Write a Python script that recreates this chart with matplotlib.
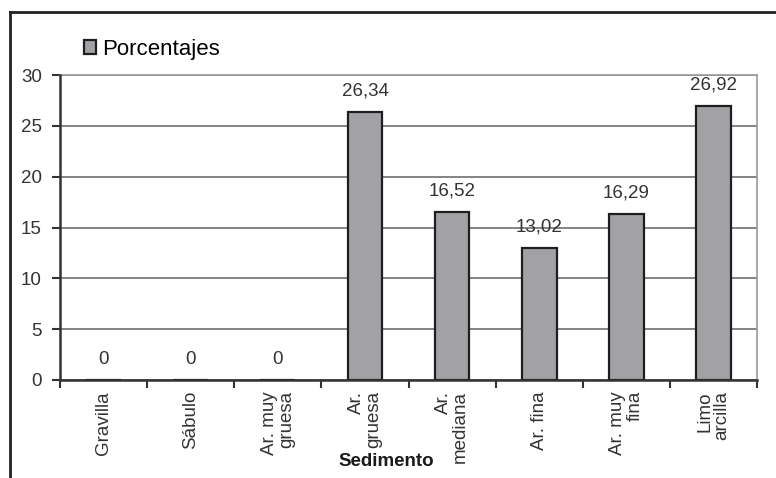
import numpy as np
import matplotlib.pyplot as plt
from matplotlib.lines import Line2D
from matplotlib.patches import Patch

categorias = ['Gravilla', 'Sábulo', 'Ar. muy\ngruesa', 'Ar.\ngruesa', 'Ar.\nmediana',
              'Ar. fina', 'Ar. muy\nfina', 'Limo\narcilla']
porcentajes = [0, 0, 0, 26.34, 16.52, 13.02, 16.29, 26.92]
etiquetas = ['0', '0', '0', '26,34', '16,52', '13,02', '16,29', '26,92']

plt.rcParams['font.family'] = ['Liberation Sans', 'DejaVu Sans']

fig = plt.figure(figsize=(7.76, 4.78), dpi=100)
ax = fig.add_axes([60/776, 1-380/478, (757-60)/776, (380-75)/478])

x = np.arange(len(categorias))
ax.bar(x, porcentajes, width=0.4, color='#a2a2a6', edgecolor='#1e1e1e', linewidth=1.6, zorder=3)

for xi, v, t in zip(x, porcentajes, etiquetas):
    ax.annotate(t, (xi, v), xytext=(0, 9), textcoords='offset points',
                ha='center', va='bottom', fontsize=13.5, color='#333333')

ax.set_xlim(-0.5, len(categorias) - 0.5)
ax.set_ylim(0, 30)
ax.set_yticks(range(0, 31, 5))
ax.grid(axis='y', color='#7a7a7a', linewidth=1.3, zorder=0)

ax.set_xticks(x)
ax.set_xticklabels(categorias, rotation=90, va='top', ha='center', multialignment='right',
                   fontsize=13.5, color='#333333', linespacing=1.0)
ax.set_xticks(np.arange(-0.5, len(categorias), 1), minor=True)
ax.tick_params(axis='x', which='major', length=0, pad=8)
ax.tick_params(axis='x', which='minor', length=6, width=1.5, color='#333333')
ax.tick_params(axis='y', length=6, width=1.5, color='#333333', labelsize=13.5,
               labelcolor='#333333', pad=7)

for s in ['left', 'bottom']:
    ax.spines[s].set_color('#333333')
    ax.spines[s].set_linewidth(1.8)
    ax.spines[s].set_zorder(4)
for s in ['right', 'top']:
    ax.spines[s].set_color('#9a9a9a')
    ax.spines[s].set_linewidth(1.2)

fig.text(386/776, 1-462/478, 'Sedimento', ha='center', va='center',
         fontsize=13.5, fontweight='bold', color='#1a1a1a')

# leyenda
ley = Patch(facecolor='#a2a2a6', edgecolor='#1e1e1e', linewidth=1.6)
fig.legend([ley], ['Porcentajes'], loc='center left', bbox_to_anchor=(84/776, 1-49/478),
           frameon=False, fontsize=16, handlelength=0.55, handleheight=0.6,
           handletextpad=0.25, borderaxespad=0, borderpad=0)

# marco exterior
fig.add_artist(Line2D([10/776, 10/776], [0, 1-12/478], color='#222222', linewidth=2,
                      transform=fig.transFigure))
fig.add_artist(Line2D([10/776, 1], [1-12/478, 1-12/478], color='#222222', linewidth=2,
                      transform=fig.transFigure))

fig.savefig('out.png', dpi=100)
